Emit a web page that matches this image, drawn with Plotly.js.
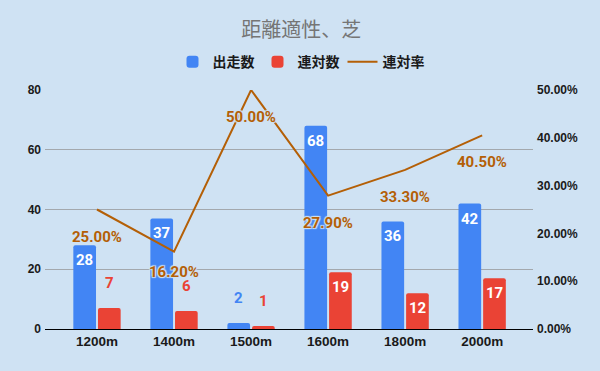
<!DOCTYPE html>
<html>
<head>
<meta charset="utf-8">
<script src="https://cdn.plot.ly/plotly-3.0.1.min.js"></script>
<style>html,body{margin:0;padding:0;background:#cfe2f3;}#chart{width:600px;height:371px;}</style>
</head>
<body>
<div id="chart"></div>
<script>
const categories = ['1200m', '1400m', '1500m', '1600m', '1800m', '2000m'];
const starts = [28, 37, 2, 68, 36, 42];          // 出走数
const placed = [7, 6, 1, 19, 12, 17];            // 連対数
const placeRate = [0.25, 0.162, 0.50, 0.279, 0.333, 0.405]; // 連対率
const seriesNames = ['出走数', '連対数', '連対率'];
const chartTitle = '距離適性、芝';

const BLUE = '#4285f4', RED = '#ea4335', ORANGE = '#b45f06', BG = '#cfe2f3';
const labelFont = 'Roboto, "Liberation Sans", sans-serif';
const cjk = '"Noto Sans CJK JP", "Noto Sans", sans-serif';

const traces = [
  { type: 'bar', name: seriesNames[0], x: categories, y: starts, marker: { color: BLUE, cornerradius: 2 }, hoverinfo: 'none' },
  { type: 'bar', name: seriesNames[1], x: categories, y: placed, marker: { color: RED, cornerradius: 2 }, hoverinfo: 'none' },
  { type: 'scatter', mode: 'lines', name: seriesNames[2], x: categories, y: placeRate, yaxis: 'y2',
    line: { color: ORANGE, width: 2 }, hoverinfo: 'none' }
];

const annotations = [];
function barLabels(vals, color, xshift) {
  vals.forEach((v, i) => {
    const inside = v >= 10;
    annotations.push({
      x: categories[i], y: v, xref: 'x', yref: 'y', showarrow: false,
      text: String(v), xshift: xshift, yshift: inside ? -15 : 25,
      font: { family: labelFont, size: 15, color: inside ? '#ffffff' : color, weight: 'bold' }
    });
  });
}
barLabels(starts, BLUE, -12.5);
barLabels(placed, RED, 12.5);
const rateShift = [-27, -20, -27, -27, -27, -27];
placeRate.forEach((r, i) => {
  annotations.push({
    x: categories[i], y: r, xref: 'x', yref: 'y2', showarrow: false,
    text: (r * 100).toFixed(2) + '%', yshift: rateShift[i],
    font: { family: labelFont, size: 15, color: ORANGE, weight: 'bold',
            shadow: '1px 1px 1px ' + BG + ', -1px -1px 1px ' + BG + ', 1px -1px 1px ' + BG + ', -1px 1px 1px ' + BG }
  });
});

const tickFont = { family: '"Liberation Sans", Arial, sans-serif', size: 12, color: '#1a1a1a', weight: 'bold' };

const layout = {
  width: 600, height: 371,
  paper_bgcolor: BG, plot_bgcolor: BG,
  margin: { l: 45, r: 67, t: 90, b: 42, autoexpand: false },
  title: { text: chartTitle, x: 0.502, xref: 'container', xanchor: 'center', y: 0.919, yanchor: 'middle',
           font: { family: cjk, size: 20, color: '#757575' } },
  showlegend: true,
  legend: { orientation: 'h', xref: 'container', x: 0.5, xanchor: 'center', y: 1.117, yanchor: 'middle',
            entrywidth: 40, entrywidthmode: 'pixels', itemwidth: 30,
            font: { family: cjk, size: 14, color: '#1a1a1a', weight: 'bold' }, bgcolor: 'rgba(0,0,0,0)' },
  barmode: 'group', bargap: 0.36, bargroupgap: 0.08,
  xaxis: { type: 'category', range: [-0.675, 5.66], showgrid: false, showline: true, linecolor: '#000', linewidth: 1,
           ticks: '', tickangle: 0, automargin: false,
           tickfont: { family: '"Liberation Sans", Arial, sans-serif', size: 13.5, color: '#1a1a1a', weight: 'bold' },
           fixedrange: true },
  yaxis: { range: [0, 80], dtick: 20, showgrid: true, gridcolor: '#a3a8ad', gridwidth: 1, zeroline: false,
           ticks: '', ticklabelstandoff: 3, automargin: false, tickfont: tickFont },
  yaxis2: { overlaying: 'y', side: 'right', range: [0, 0.5], dtick: 0.1, tickformat: '.2%', showgrid: false, zeroline: false,
            ticks: '', ticklabelstandoff: 3, automargin: false, tickfont: tickFont },
  annotations: annotations
};

Plotly.newPlot('chart', traces, layout, { displayModeBar: false, staticPlot: true });
</script>
</body>
</html>
